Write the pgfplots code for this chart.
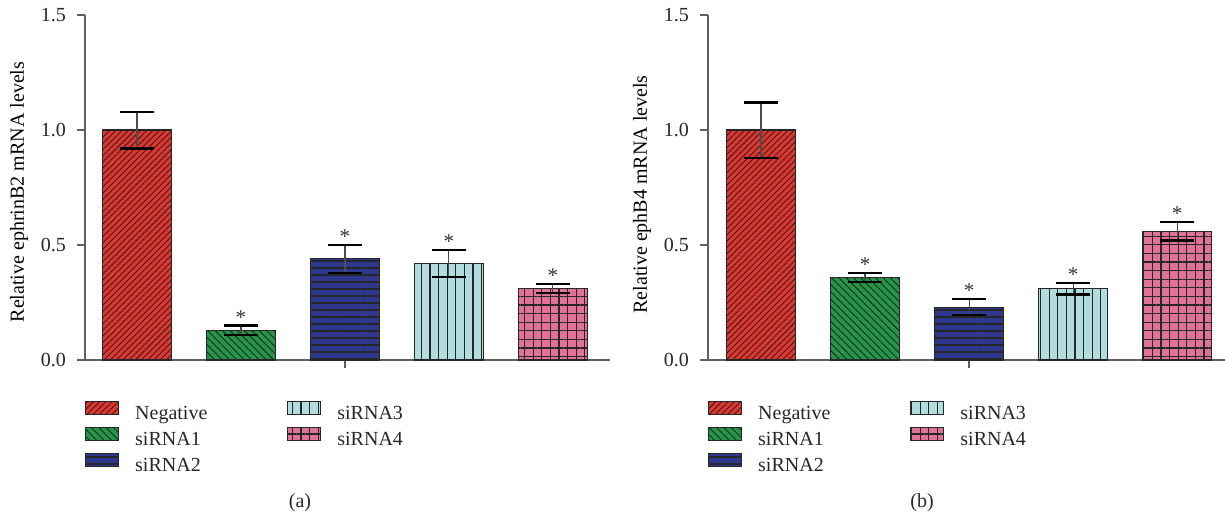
\documentclass[border=0pt]{standalone}
\usepackage{fontspec}
\setmainfont{Liberation Serif}
\usepackage{pgfplots}
\pgfplotsset{compat=1.18}
\usetikzlibrary{patterns.meta}

\definecolor{cRed}{RGB}{228,52,46}
\definecolor{cGreen}{RGB}{36,150,72}
\definecolor{cBlue}{RGB}{46,56,140}
\definecolor{cCyan}{RGB}{176,220,222}
\definecolor{cPink}{RGB}{224,114,152}
\definecolor{axgray}{RGB}{95,95,95}

\pgfplotsset{
  mybar/.style={ybar, bar width=34.5pt, bar shift=0pt, draw=black!85, line width=0.6pt,
    /pgfplots/error bars/y dir=both, /pgfplots/error bars/y explicit,
    /pgfplots/error bars/error mark=|,
    /pgfplots/error bars/error bar style={line width=0.6pt, black!70, solid},
    /pgfplots/error bars/error mark options={black, line width=1.1pt, mark size=8.5pt, solid}},
  pNeg/.style={mybar, fill=cRed, postaction={pattern={Lines[angle=45,distance=2.2pt,line width=0.45pt]}, pattern color=black!85}},
  pS1/.style={mybar, fill=cGreen, postaction={pattern={Lines[angle=-45,distance=2.6pt,line width=0.45pt]}, pattern color=black!85}},
  pS2/.style={mybar, fill=cBlue, postaction={pattern={Lines[angle=0,distance=3.5pt,line width=0.6pt]}, pattern color=black!85}},
  pS3/.style={mybar, fill=cCyan, postaction={pattern={Lines[angle=90,distance=4.3pt,line width=0.6pt]}, pattern color=black!85}},
  pS4/.style={mybar, fill=cPink, postaction={pattern={Hatch[angle=0,distance=4.3pt,line width=0.6pt]}, pattern color=black!85}},
  stars/.style={forget plot, draw=none, mark=none, nodes near coords={*},
    nodes near coords style={anchor=south, inner sep=0.4pt, font=\fontsize{10.5}{10.5}\selectfont, text=black!80}},
  panel/.style={
    scale only axis, height=172.5pt, clip=false,
    axis lines=left, axis line style={-, draw=axgray, line width=0.75pt},
    ymin=0, ymax=1.5, ytick={0,0.5,1,1.5},
    xtick={2}, xticklabels={},
    tick align=outside, major tick length=4pt,
    tick style={axgray, line width=0.75pt},
    /pgf/number format/assume math mode=true,
    yticklabel style={/pgf/number format/.cd, fixed, fixed zerofill, precision=1, /tikz/.cd, xshift=-2pt},
    ticklabel style={font=\fontsize{10}{12}\selectfont, text=black!85},
    label style={font=\fontsize{11}{12}\selectfont, text=black!85},
    legend image code/.code={\path[##1] (0pt,-0.3pt) rectangle (16.5pt,6.2pt);},
    legend columns=2, legend cell align=left,
    legend style={at={(axis description cs:0,0)}, anchor=north west, yshift=-20.5pt,
      draw=none, fill=none, inner sep=0pt, outer sep=0pt, row sep=2pt,
      font=\fontsize{10}{12}\selectfont,
      nodes={inner sep=0pt, text width=76pt, text height=7pt, text depth=2pt, text=black!85},
      /tikz/every odd column/.append style={column sep=8pt}},
  },
}

\begin{document}
\begin{tikzpicture}
\useasboundingbox (0pt,0pt) rectangle (612.5pt,-260pt);

\begin{axis}[panel, at={(42.5pt,-180pt)}, anchor=south west, width=262.5pt,
  xmin=-0.5, xmax=4.55,
  ylabel={Relative ephrinB2 mRNA levels},
  every axis y label/.style={at={(rel axis cs:0,0.487)}, xshift=-33pt, rotate=90, anchor=center}]
\addplot[pNeg] coordinates {(0,1.00) +- (0,0.08)};
\addlegendentry{Negative}
\addplot[pS3] coordinates {(3,0.42) +- (0,0.06)};
\addlegendentry{siRNA3}
\addplot[pS1] coordinates {(1,0.13) +- (0,0.02)};
\addlegendentry{siRNA1}
\addplot[pS4] coordinates {(4,0.31) +- (0,0.02)};
\addlegendentry{siRNA4}
\addplot[pS2] coordinates {(2,0.44) +- (0,0.06)};
\addlegendentry{siRNA2}
\addplot[stars] coordinates {(1,0.15) (2,0.50) (3,0.48) (4,0.33)};
\end{axis}

\begin{axis}[panel, at={(354pt,-180pt)}, anchor=south west, width=258.5pt,
  xmin=-0.51, xmax=4.46,
  ylabel={Relative ephB4 mRNA levels},
  every axis y label/.style={at={(rel axis cs:0,0.48)}, xshift=-33pt, rotate=90, anchor=center}]
\addplot[pNeg] coordinates {(0,1.00) +- (0,0.12)};
\addlegendentry{Negative}
\addplot[pS3] coordinates {(3,0.31) +- (0,0.025)};
\addlegendentry{siRNA3}
\addplot[pS1] coordinates {(1,0.36) +- (0,0.02)};
\addlegendentry{siRNA1}
\addplot[pS4] coordinates {(4,0.56) +- (0,0.04)};
\addlegendentry{siRNA4}
\addplot[pS2] coordinates {(2,0.23) +- (0,0.035)};
\addlegendentry{siRNA2}
\addplot[stars] coordinates {(1,0.38) (2,0.265) (3,0.335) (4,0.60)};
\end{axis}

\node[font=\fontsize{10}{12}\selectfont, text=black!85] at (150pt,-251.5pt) {(a)};
\node[font=\fontsize{10}{12}\selectfont, text=black!85] at (461pt,-251.5pt) {(b)};
\end{tikzpicture}
\end{document}
